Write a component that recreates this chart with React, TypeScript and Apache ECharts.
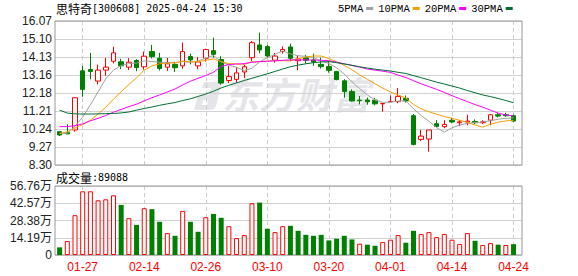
import React, { useEffect, useRef } from "react";
import * as echarts from "echarts";

const stockName = "思特奇";
const stockCode = "300608";
const stamp = "2025-04-24 15:30";

const dates = [
  "01-22", "01-23", "01-24", "01-27", "02-05", "02-06", "02-07", "02-10", "02-11", "02-12",
  "02-13", "02-14", "02-17", "02-18", "02-19", "02-20", "02-21", "02-24", "02-25", "02-26",
  "02-27", "02-28", "03-03", "03-04", "03-05", "03-06", "03-07", "03-10", "03-11", "03-12",
  "03-13", "03-14", "03-17", "03-18", "03-19", "03-20", "03-21", "03-24", "03-25", "03-26",
  "03-27", "03-28", "03-31", "04-01", "04-02", "04-03", "04-07", "04-08", "04-09", "04-10",
  "04-11", "04-14", "04-15", "04-16", "04-17", "04-18", "04-21", "04-22", "04-23", "04-24",
];

const opens = [
  10.10, 10.05, 10.19, 13.38, 13.45, 12.83, 13.42, 13.90, 13.87, 13.58,
  13.94, 13.60, 14.42, 14.06, 13.58, 13.73, 13.65, 14.15, 13.65, 14.06,
  14.47, 13.99, 12.86, 12.92, 13.32, 14.09, 14.78, 14.69, 13.95, 14.42,
  14.67, 13.93, 14.09, 13.97, 13.73, 13.61, 13.34, 12.84, 12.26, 11.80,
  11.81, 11.80, 11.60, 11.71, 11.72, 11.90, 10.96, 9.68, 9.70, 10.53,
  10.37, 10.71, 10.58, 10.62, 10.65, 10.58, 10.72, 11.01, 11.01, 10.96,
];
const closes = [
  9.92, 9.98, 11.93, 12.38, 13.35, 13.42, 13.58, 14.35, 13.65, 13.85,
  13.56, 14.17, 14.15, 13.51, 13.76, 13.55, 14.42, 13.97, 13.86, 14.53,
  14.27, 12.72, 13.07, 13.27, 13.60, 14.90, 14.51, 14.18, 14.18, 14.53,
  14.06, 14.02, 13.95, 13.86, 13.61, 13.41, 12.91, 12.26, 11.76, 11.77,
  11.71, 11.60, 11.62, 11.73, 12.00, 11.76, 9.41, 9.86, 10.19, 10.38,
  10.49, 10.62, 10.63, 10.67, 10.58, 10.63, 11.01, 10.94, 10.96, 10.67,
];
const lows = [
  9.86, 9.96, 10.10, 11.98, 12.92, 12.65, 13.11, 13.78, 13.47, 13.42,
  13.36, 13.45, 14.05, 13.40, 13.38, 13.32, 13.50, 13.73, 13.47, 13.88,
  14.09, 12.63, 12.72, 12.74, 13.00, 13.91, 14.33, 14.09, 13.82, 14.31,
  13.91, 13.41, 13.77, 13.65, 13.50, 13.28, 12.87, 11.93, 11.73, 11.57,
  11.55, 11.52, 11.18, 11.70, 11.63, 11.67, 9.36, 9.59, 9.02, 10.37,
  10.28, 10.55, 10.40, 10.44, 10.51, 10.51, 10.44, 10.87, 10.90, 10.65,
];
const highs = [
  10.10, 10.50, 11.93, 13.65, 14.35, 13.72, 14.08, 14.68, 14.03, 14.07,
  14.01, 14.42, 14.78, 14.35, 14.08, 13.88, 14.90, 14.31, 14.13, 14.58,
  15.17, 14.17, 13.65, 13.59, 13.70, 14.99, 15.44, 14.78, 14.35, 14.70,
  14.85, 14.18, 14.24, 14.31, 14.09, 13.91, 13.38, 12.93, 12.38, 12.02,
  11.94, 11.92, 11.64, 12.06, 12.45, 12.05, 11.05, 10.19, 10.19, 10.72,
  10.72, 10.85, 10.72, 11.01, 10.76, 10.71, 11.05, 11.12, 11.12, 11.03,
];

const ma5 = [
  10.00, 10.02, 10.40, 10.88, 11.55, 12.25, 12.95, 13.42, 13.67, 13.77,
  13.80, 13.92, 13.88, 13.85, 13.83, 13.83, 13.88, 13.84, 13.91, 14.07,
  14.21, 13.87, 13.69, 13.57, 13.40, 13.52, 13.87, 14.09, 14.27, 14.46,
  14.29, 14.20, 14.16, 14.09, 13.91, 13.78, 13.55, 13.21, 12.79, 12.42,
  12.08, 11.81, 11.68, 11.69, 11.75, 11.76, 11.33, 10.97, 10.66, 10.32,
  10.07, 10.31, 10.45, 10.55, 10.59, 10.62, 10.69, 10.77, 10.82, 10.84,
];
const ma10 = [
  10.01, 10.08, 10.30, 10.48, 10.72, 11.05, 11.42, 11.85, 12.25, 12.64,
  13.01, 13.42, 13.65, 13.76, 13.80, 13.81, 13.90, 13.86, 13.88, 13.95,
  14.02, 13.88, 13.77, 13.75, 13.73, 13.87, 13.88, 13.90, 13.93, 13.93,
  13.91, 14.04, 14.12, 14.18, 14.18, 14.04, 13.88, 13.68, 13.44, 13.16,
  12.93, 12.68, 12.45, 12.24, 12.08, 11.92, 11.57, 11.33, 11.17, 11.04,
  10.91, 10.82, 10.71, 10.60, 10.46, 10.34, 10.50, 10.61, 10.68, 10.71,
];
const ma20 = [
  10.37, 10.37, 10.42, 10.52, 10.68, 10.82, 10.97, 11.15, 11.30, 11.45,
  11.58, 11.76, 11.93, 12.08, 12.24, 12.40, 12.62, 12.82, 12.98, 13.13,
  13.30, 13.62, 13.72, 13.75, 13.77, 13.84, 13.88, 13.90, 13.92, 13.95,
  13.97, 13.97, 13.97, 13.96, 13.95, 13.93, 13.85, 13.76, 13.67, 13.58,
  13.48, 13.42, 13.36, 13.30, 13.15, 13.02, 12.85, 12.68, 12.53, 12.38,
  12.22, 12.04, 11.88, 11.72, 11.56, 11.42, 11.26, 11.10, 11.00, 10.95,
];
const ma30 = [
  11.26, 11.10, 11.06, 11.05, 11.05, 11.06, 11.07, 11.08, 11.11, 11.16,
  11.26, 11.35, 11.43, 11.52, 11.60, 11.67, 11.78, 11.87, 12.00, 12.13,
  12.28, 12.46, 12.60, 12.73, 12.86, 12.98, 13.10, 13.22, 13.35, 13.48,
  13.60, 13.69, 13.76, 13.82, 13.86, 13.88, 13.82, 13.75, 13.68, 13.60,
  13.53, 13.47, 13.42, 13.37, 13.30, 13.24, 13.12, 13.01, 12.89, 12.77,
  12.67, 12.56, 12.45, 12.32, 12.20, 12.08, 11.99, 11.89, 11.78, 11.66,
];

const volumes = [
  62800, 114600, 327500, 524000, 524000, 450000, 458000, 491000, 412000, 303000,
  248000, 385000, 377000, 273000, 180000, 158000, 363000, 273000, 191000, 311000,
  338000, 306000, 237000, 139000, 164000, 426000, 431000, 216000, 188000, 237000,
  240000, 199000, 166000, 158000, 166000, 120000, 134000, 158000, 128000, 93000,
  85000, 76000, 106000, 126000, 164000, 101000, 199000, 172000, 188000, 147000,
  172000, 126000, 90000, 180000, 117000, 82000, 98000, 85000, 82000, 89088,
];
// 1 = up day (red hollow bar), 0 = down day (green bar)
const volumeUp = [
  0, 1, 1, 1, 1, 1, 1, 1, 0, 1,
  0, 1, 0, 0, 1, 0, 1, 0, 0, 1,
  0, 0, 1, 1, 1, 1, 0, 0, 1, 1,
  0, 0, 0, 0, 0, 0, 0, 0, 0, 1,
  0, 0, 1, 1, 1, 0, 0, 1, 1, 1,
  1, 1, 1, 1, 0, 1, 1, 0, 1, 0,
];

const priceTicks = ["8.30", "9.27", "10.24", "11.21", "12.18", "13.16", "14.13", "15.10", "16.07"];
const priceMin = 8.3;
const priceMax = 16.07;
const priceStep = 0.97125;
const volumeTicks = ["0", "14.19万", "28.38万", "42.57万", "56.76万"];
const volumeMax = 567600;
const volumeStep = 141900;
const dateTickIndex = [3, 11, 19, 27, 35, 43, 51, 59];
const maNames = ["5PMA", "10PMA", "20PMA", "30PMA"];

const RED = "#ff0000";
const GREEN = "#008000";
const MA_COLORS = ["#a0a0a0", "#f5a000", "#ff00ff", "#006f35"];

echarts.graphic.registerShape(
  "emLogo",
  echarts.graphic.extendPath(
    "M10,0 L28,0 L22,24 C21,27 18,28 15,28 L2,28 C0,28 0,26 1,24 L3,17 C4,14 6,13 9,13 L15,13 L17,6 L8,6 Z M9,18 L8,23 L13,23 L14,18 Z",
    {}
  )
);

export default function App() {
  const ref = useRef<HTMLDivElement>(null);
  useEffect(() => {
    if (!ref.current) return;
    const chart = echarts.init(ref.current, null, { renderer: "svg" });
    const axisFont = 'Liberation Sans, "Noto Sans CJK SC", sans-serif';
    const xCommon = {
      type: "value" as const,
      min: -0.6,
      max: 60.1,
      axisLine: { show: false },
      axisTick: { show: false, customValues: dateTickIndex },
      splitLine: { show: true, lineStyle: { color: "#cccccc", width: 1, type: [4, 3] } },
    };
    const maSeries = [ma5, ma10, ma20, ma30].map((arr, k) => ({
      name: maNames[k],
      type: "line",
      xAxisIndex: 0,
      yAxisIndex: 0,
      data: arr.map((v, i) => [i, v]),
      showSymbol: false,
      symbol: "none",
      lineStyle: { color: MA_COLORS[k], width: 1 },
      itemStyle: { color: MA_COLORS[k] },
      z: 3,
    }));
    const titleRich = {
      a: { fontFamily: '"Noto Sans CJK SC"', fontSize: 12, fontWeight: "normal", color: "#000" },
      b: { fontFamily: '"DejaVu Sans Mono"', fontSize: 10, fontWeight: "normal", color: "#000" },
    };
    chart.setOption({
      animation: false,
      title: [
        {
          left: 56,
          top: 2,
          padding: 0,
          text: `{a|${stockName}}{b|[${stockCode}] ${stamp}}`,
          textStyle: { fontWeight: "normal", rich: titleRich },
        },
        {
          left: 56,
          top: 171,
          padding: 0,
          text: `{a|成交量}{b|:${volumes[volumes.length - 1]}}`,
          textStyle: { fontWeight: "normal", rich: titleRich },
        },
      ],
      legend: {
        data: maNames,
        left: 338,
        top: 3,
        padding: 0,
        align: "right",
        icon: "rect",
        itemWidth: 7,
        itemHeight: 3,
        itemGap: 5,
        textStyle: { fontFamily: '"Liberation Mono", monospace', fontSize: 10.5, color: "#000", padding: [0, -2, 0, 0] },
      },
      graphic: [
        {
          type: "emLogo",
          x: 194,
          y: 82,
          scaleX: 1.0,
          scaleY: 1.0,
          z: -1,
          style: { fill: "#e5e5e9" },
        },
        {
          type: "text",
          x: 222,
          y: 74,
          z: -1,
          style: {
            text: "东方财富",
            fontSize: 37,
            fontWeight: "bold",
            fontStyle: "italic",
            fontFamily: '"Noto Sans CJK SC"',
            fill: "#e5e5e9",
          },
        },
      ],
      grid: [
        { left: 55, top: 21, width: 467, height: 144, show: true, borderColor: "#999999", borderWidth: 1, z: 1 },
        { left: 55, top: 186, width: 467, height: 69, show: true, borderColor: "#999999", borderWidth: 1, z: 1 },
      ],
      xAxis: [
        { ...xCommon, gridIndex: 0, axisLabel: { show: false } },
        {
          ...xCommon,
          gridIndex: 1,
          axisLabel: {
            show: true,
            customValues: dateTickIndex,
            formatter: (v: number) => dates[Math.round(v)] ?? "",
            color: RED,
            fontSize: 12,
            fontFamily: axisFont,
            margin: 6,
          },
        },
      ],
      yAxis: [
        {
          type: "value",
          gridIndex: 0,
          min: priceMin,
          max: priceMax,
          interval: priceStep,
          axisLine: { show: false },
          axisTick: { show: false },
          axisLabel: {
            formatter: (v: number) => priceTicks[Math.round((v - priceMin) / priceStep)] ?? "",
            color: "#222",
            fontSize: 12,
            fontFamily: axisFont,
            margin: 3,
          },
          splitLine: { show: true, lineStyle: { color: "#d2d2d2", width: 1 } },
        },
        {
          type: "value",
          gridIndex: 1,
          min: 0,
          max: volumeMax,
          interval: volumeStep,
          axisLine: { show: false },
          axisTick: { show: false },
          axisLabel: {
            formatter: (v: number) => volumeTicks[Math.round(v / volumeStep)] ?? "",
            color: "#222",
            fontSize: 12,
            fontFamily: axisFont,
            margin: 3,
          },
          splitLine: { show: true, lineStyle: { color: "#d2d2d2", width: 1 } },
        },
      ],
      series: [
        {
          name: "K",
          type: "candlestick",
          xAxisIndex: 0,
          yAxisIndex: 0,
          barWidth: 5,
          encode: { x: 0, y: [1, 2, 3, 4] },
          data: dates.map((_, i) => [i, opens[i], closes[i], lows[i], highs[i]]),
          itemStyle: {
            color: "#ffffff",
            color0: GREEN,
            borderColor: RED,
            borderColor0: GREEN,
            borderWidth: 1,
          },
          z: 2,
        },
        ...maSeries,
        {
          name: "VOL",
          type: "bar",
          xAxisIndex: 1,
          yAxisIndex: 1,
          barWidth: 5,
          data: volumes.map((v, i) => ({
            value: [i, v],
            itemStyle: volumeUp[i]
              ? { color: "#ffffff", borderColor: RED, borderWidth: 1 }
              : { color: GREEN, borderColor: GREEN, borderWidth: 0 },
          })),
        },
      ],
    });
    return () => chart.dispose();
  }, []);
  return (
    <div
      ref={ref}
      style={{ position: "absolute", left: 0, top: 0, width: 578, height: 276 }}
    />
  );
}
